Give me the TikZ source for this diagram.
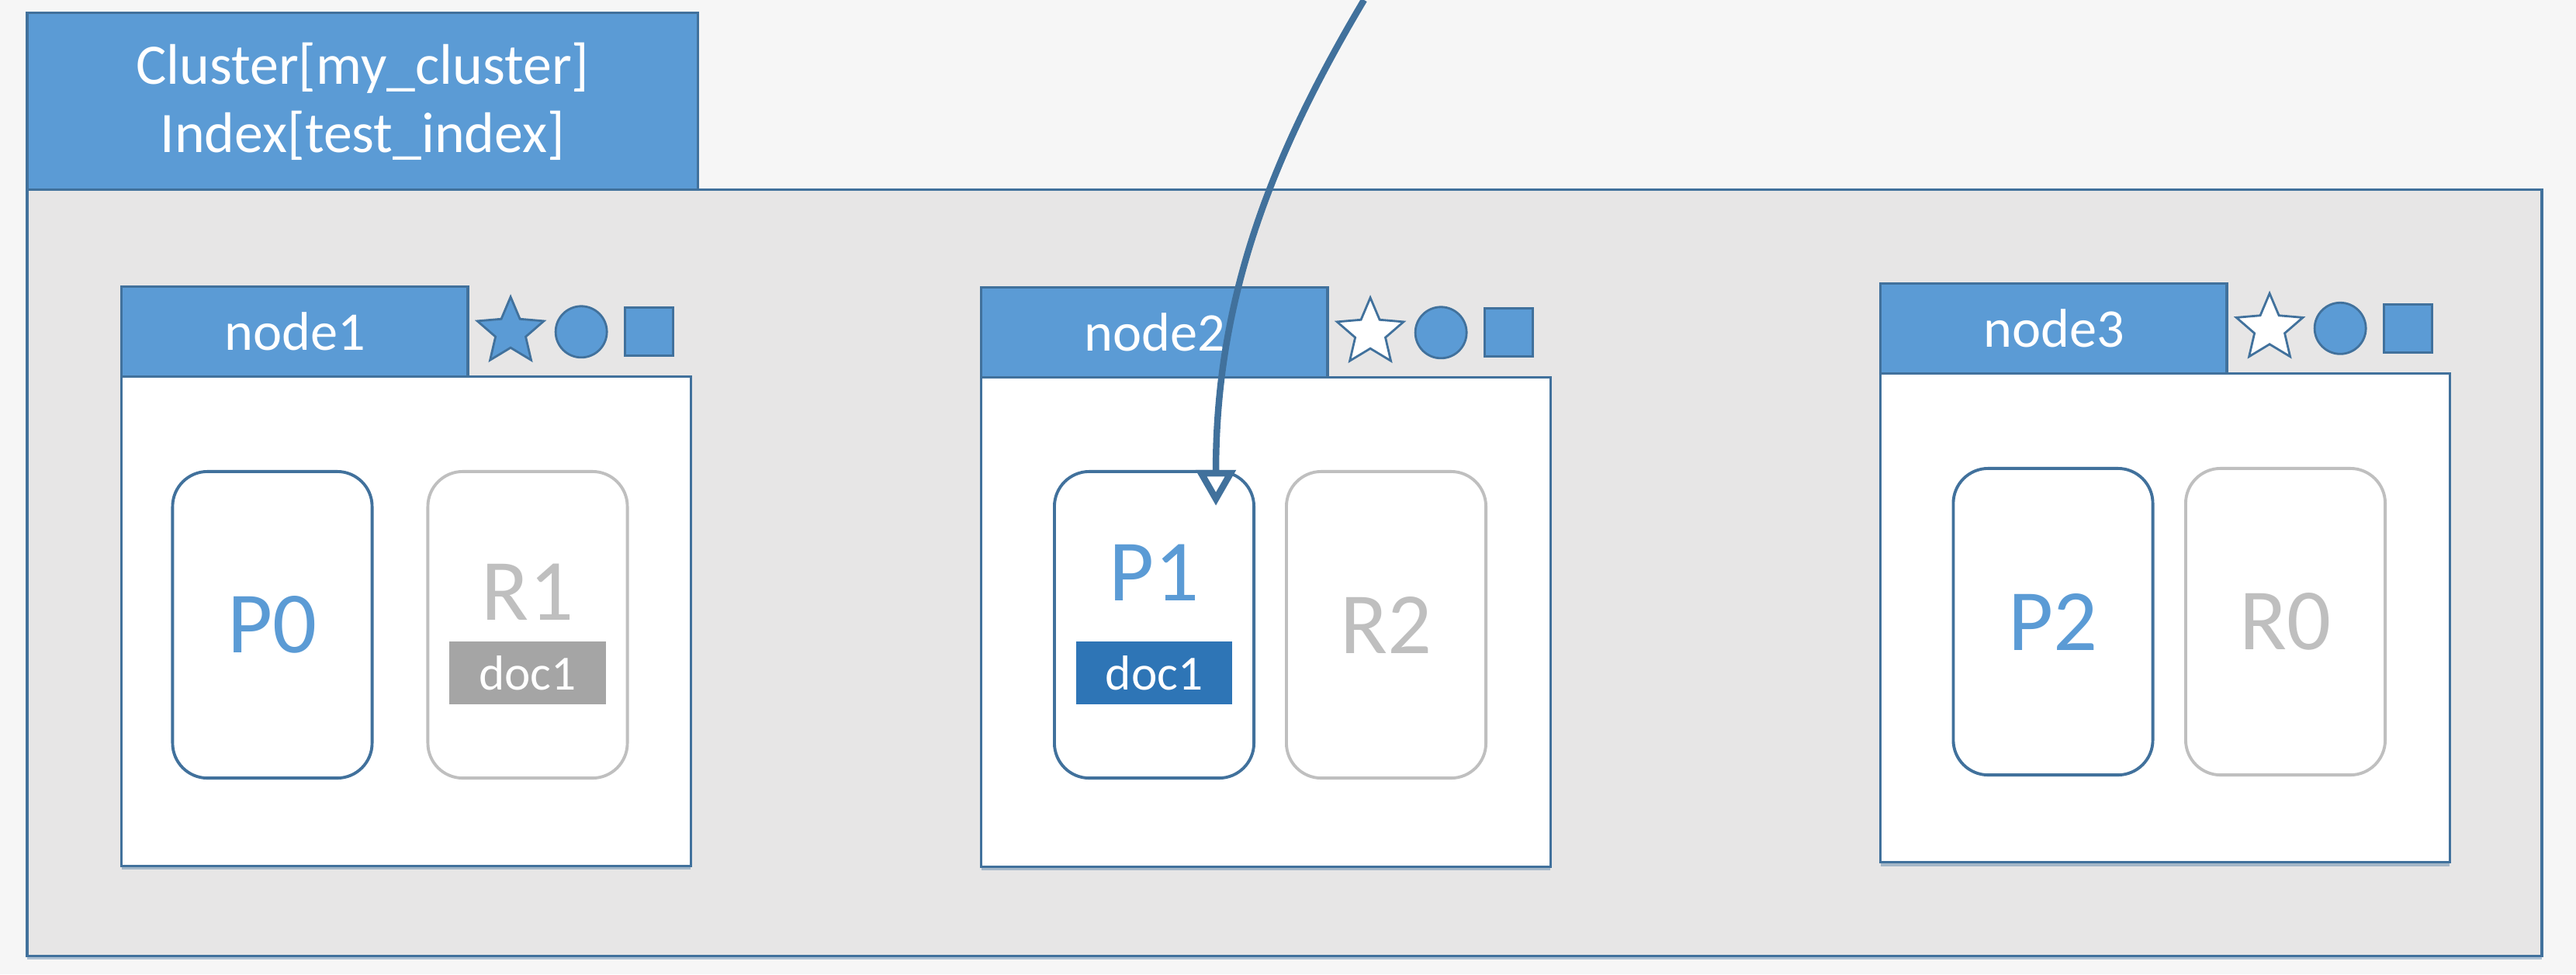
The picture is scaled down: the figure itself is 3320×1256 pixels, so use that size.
\documentclass[tikz,border=0pt]{standalone}
\usepackage{fontspec}
\setmainfont{Carlito}
\usetikzlibrary{positioning, shapes.geometric, arrows.meta, shadows}

\definecolor{tabblue}{HTML}{5B9BD5}
\definecolor{lineblue}{HTML}{41719C}
\definecolor{docblue}{HTML}{2E75B6}
\definecolor{clustergray}{HTML}{E7E6E6}
\definecolor{replicagray}{HTML}{BFBFBF}
\definecolor{docgray}{HTML}{A5A5A5}
\definecolor{slidebg}{HTML}{F6F6F6}

\begin{document}
\begin{tikzpicture}
    [x=0.01cm, y=-0.01cm, outer sep=0pt,
    tab/.style={rectangle, draw=lineblue, fill=tabblue, line width=0.9pt,
      text=white, inner sep=0pt, minimum width=4.46cm, minimum height=1.16cm,
      font=\fontsize{20}{24}\selectfont},
    host/.style={rectangle, draw=lineblue, fill=white, line width=0.9pt,
      minimum width=7.33cm, minimum height=6.3cm, inner sep=0pt,
      drop shadow={shadow xshift=0pt, shadow yshift=-0.05cm, opacity=0.4, fill=lineblue}},
    shard/.style={rectangle, rounded corners=0.45cm, fill=white, line width=1.1pt,
      minimum width=2.57cm, minimum height=3.95cm, inner sep=0pt,
      font=\fontsize{32}{38}\selectfont},
    primary/.style={shard, draw=lineblue, text=tabblue},
    replica/.style={shard, draw=replicagray, text=replicagray},
    doc/.style={rectangle, text=white, minimum width=2.01cm, minimum height=0.81cm,
      inner sep=0pt, font=\fontsize{18}{22}\selectfont},
    icon/.style={draw=lineblue, line width=0.8pt, fill=tabblue, inner sep=0pt},
    flag/.style={icon, star, star points=5, star point ratio=2.2, minimum size=0.9cm}]

    % slide background
    \fill[slidebg] (0,0) rectangle (3320,1256);
    \useasboundingbox (0,0) rectangle (3320,1256);

    % cluster
    \node[rectangle, draw=lineblue, fill=clustergray, line width=0.9pt,
      minimum width=32.39cm, minimum height=9.87cm,
      drop shadow={shadow xshift=0pt, shadow yshift=-0.05cm, opacity=0.4, fill=lineblue}]
      (cluster) at (1655.5,738.5) {};
    \node[tab, minimum width=8.64cm, minimum height=2.28cm, align=center,
      font=\fontsize{21}{25}\selectfont, anchor=south west]
      (cluster_tab) at (cluster.north west) {Cluster[my\_cluster]\\Index[test\_index]};

    % hosts
    \node[host] (node1) at (523.5,801) {};
    \node[host] (node2) at (1631.5,802) {};
    \node[host] (node3) at (2790.5,796.5) {};
    \node[tab, anchor=south west] (node1_tab) at (node1.north west) {node1};
    \node[tab, anchor=south west] (node2_tab) at (node2.north west) {node2};
    \node[tab, anchor=south west] (node3_tab) at (node3.north west) {node3};

    % master / data / ingest marks
    \node[flag] (node1_star) at ([xshift=0.55cm]node1_tab.east) {};
    \node[icon, circle, minimum size=0.66cm] (node1_circle) at ([xshift=1.46cm]node1_tab.east) {};
    \node[icon, rectangle, minimum size=0.62cm] (node1_square) at ([xshift=2.335cm]node1_tab.east) {};
    \node[flag, fill=white] (node2_star) at ([xshift=0.55cm]node2_tab.east) {};
    \node[icon, circle, minimum size=0.66cm] (node2_circle) at ([xshift=1.46cm]node2_tab.east) {};
    \node[icon, rectangle, minimum size=0.62cm] (node2_square) at ([xshift=2.335cm]node2_tab.east) {};
    \node[flag, fill=white] (node3_star) at ([xshift=0.55cm]node3_tab.east) {};
    \node[icon, circle, minimum size=0.66cm] (node3_circle) at ([xshift=1.46cm]node3_tab.east) {};
    \node[icon, rectangle, minimum size=0.62cm] (node3_square) at ([xshift=2.335cm]node3_tab.east) {};

    % shards
    \node[primary] (p0) at (351,805.5) {P0};
    \node[replica] (r1) at (680,805.5) {};
    \node[text=replicagray, font=\fontsize{32}{38}\selectfont] (r1_label) at ([yshift=0.42cm]r1.center) {R1};
    \node[doc, fill=docgray] (r1_doc) at ([yshift=-0.62cm]r1.center) {doc1};
    \node[primary] (p1) at (1487.5,805.5) {};
    \node[text=tabblue, font=\fontsize{32}{38}\selectfont] (p1_label) at ([yshift=0.67cm]p1.center) {P1};
    \node[doc, fill=docblue] (p1_doc) at ([yshift=-0.62cm]p1.center) {doc1};
    \node[replica] (r2) at (1786.5,805.5) {R2};
    \node[primary] (p2) at (2646,801.5) {P2};
    \node[replica] (r0) at (2945.5,801.5) {R0};

    % incoming request
    \coordinate (request) at (1758,0);
    \coordinate (p1_hit) at ([xshift=0.795cm, yshift=-0.44cm]p1.north);
    \draw[lineblue, line width=2.4pt, -{Triangle[open, length=0.46cm, width=0.5cm]}]
      (request) .. controls +(-125,210) and +(0,-260) .. (p1_hit);
  \end{tikzpicture}
\end{document}
